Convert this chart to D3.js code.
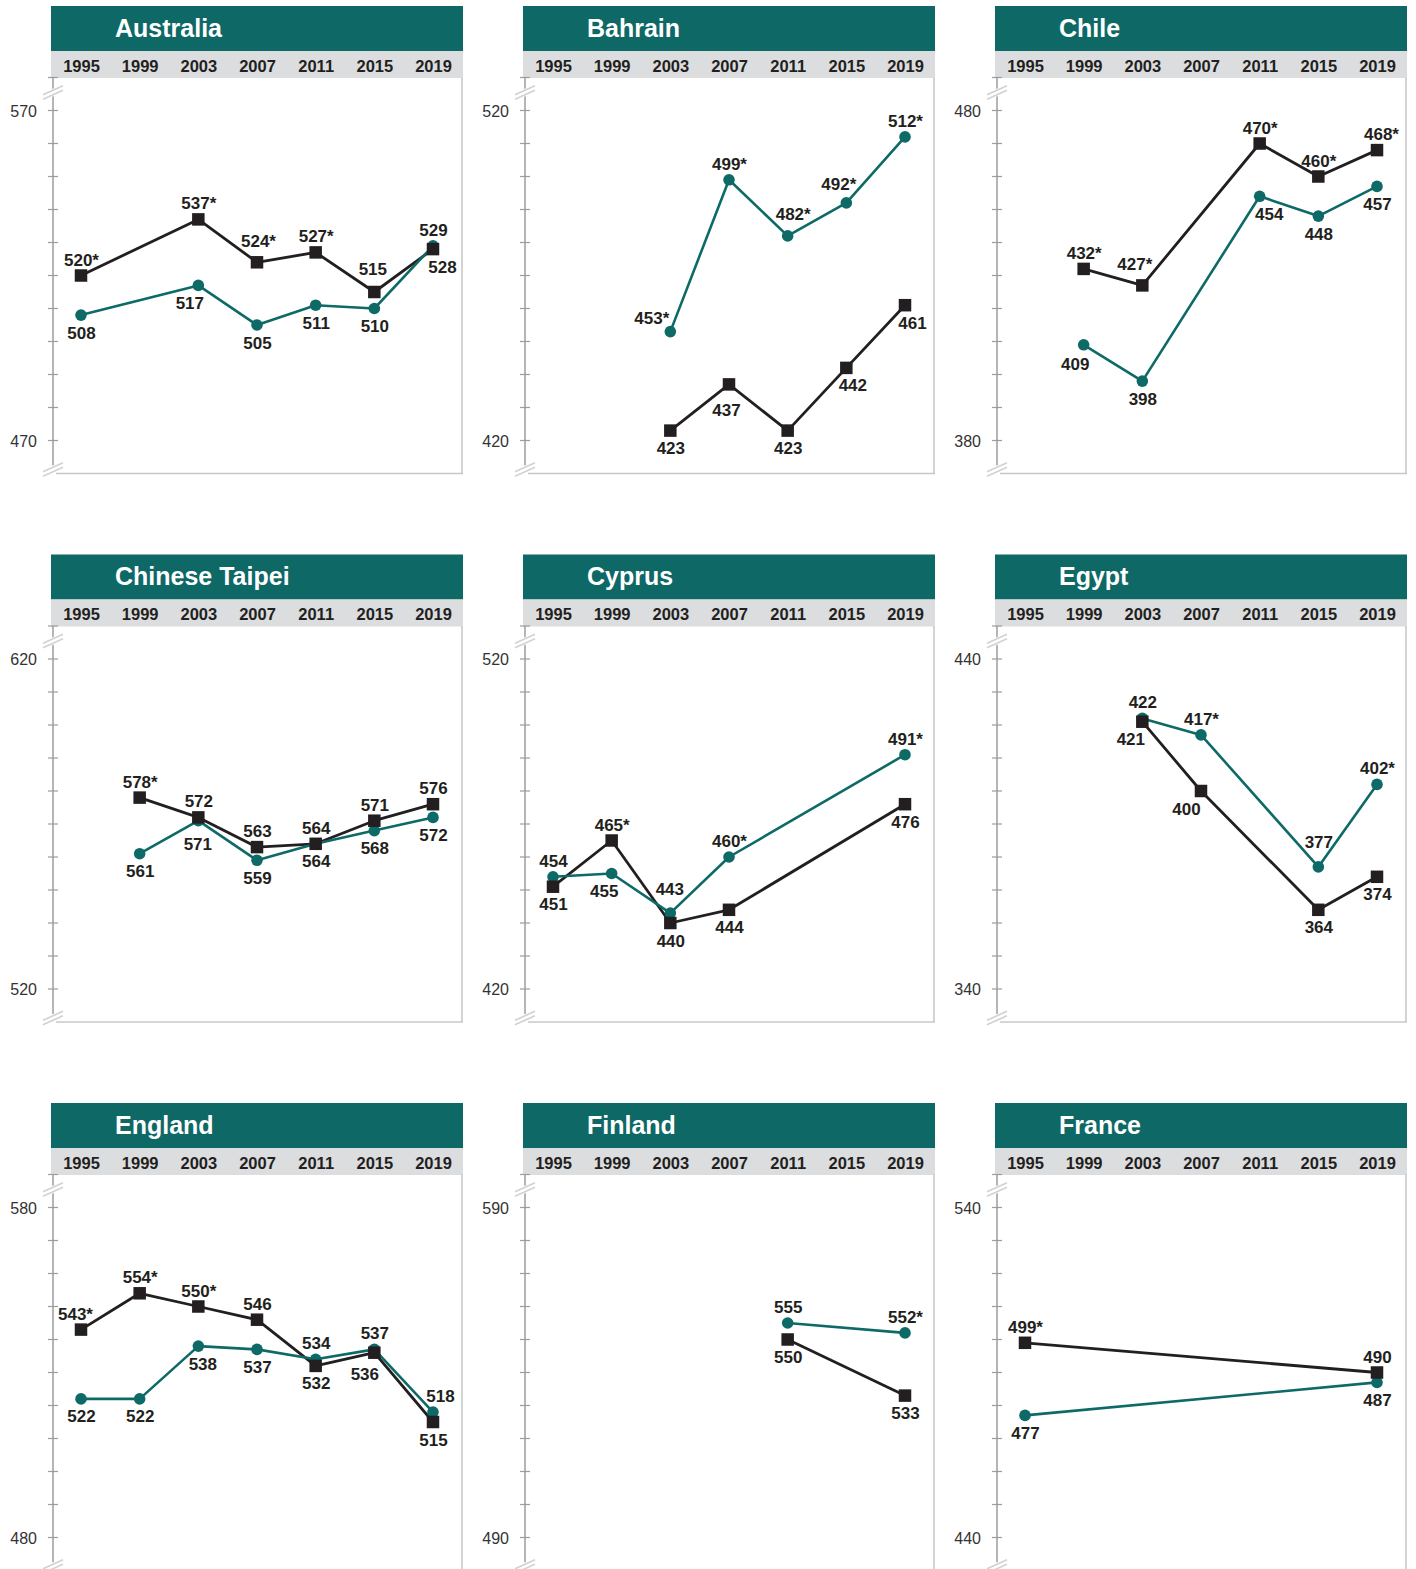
<!DOCTYPE html>
<html>
<head>
<meta charset="utf-8">
<script src="https://cdn.jsdelivr.net/npm/d3@7"></script>
<style>
  html, body { margin: 0; padding: 0; background: #ffffff; }
  svg { display: block; font-family: "Liberation Sans", Arial, sans-serif; }
</style>
</head>
<body>
<svg id="chart" width="1416" height="1569"></svg>
<script>
// ---------------- data ----------------
const years = [1995, 1999, 2003, 2007, 2011, 2015, 2019];
const countries = ["Australia", "Bahrain", "Chile", "Chinese Taipei", "Cyprus", "Egypt", "England", "Finland", "France"];
const yTopLabel = [570, 520, 480, 620, 520, 440, 580, 590, 540];
const yBottomLabel = [470, 420, 380, 520, 420, 340, 480, 490, 440];

// black series (squares), aligned to years; null = not participating
const blackScores = [
  [520, null, 537, 524, 527, 515, 528],
  [null, null, 423, 437, 423, 442, 461],
  [null, 432, 427, null, 470, 460, 468],
  [null, 578, 572, 563, 564, 571, 576],
  [451, 465, 440, 444, null, null, 476],
  [null, null, 421, 400, null, 364, 374],
  [543, 554, 550, 546, 532, 536, 515],
  [null, null, null, null, 550, null, 533],
  [499, null, null, null, null, null, 490]
];
const blackSig = [
  [1, 0, 1, 1, 1, 0, 0],
  [0, 0, 0, 0, 0, 0, 0],
  [0, 1, 1, 0, 1, 1, 1],
  [0, 1, 0, 0, 0, 0, 0],
  [0, 1, 0, 0, 0, 0, 0],
  [0, 0, 0, 0, 0, 0, 0],
  [1, 1, 1, 0, 0, 0, 0],
  [0, 0, 0, 0, 0, 0, 0],
  [1, 0, 0, 0, 0, 0, 0]
];
// teal series (circles)
const tealScores = [
  [508, null, 517, 505, 511, 510, 529],
  [null, null, 453, 499, 482, 492, 512],
  [null, 409, 398, null, 454, 448, 457],
  [null, 561, 571, 559, 564, 568, 572],
  [454, 455, 443, 460, null, null, 491],
  [null, null, 422, 417, null, 377, 402],
  [522, 522, 538, 537, 534, 537, 518],
  [null, null, null, null, 555, null, 552],
  [477, null, null, null, null, null, 487]
];
const tealSig = [
  [0, 0, 0, 0, 0, 0, 0],
  [0, 0, 1, 1, 1, 1, 1],
  [0, 0, 0, 0, 0, 0, 0],
  [0, 0, 0, 0, 0, 0, 0],
  [0, 0, 0, 1, 0, 0, 1],
  [0, 0, 0, 1, 0, 0, 1],
  [0, 0, 0, 0, 0, 0, 0],
  [0, 0, 0, 0, 0, 0, 1],
  [0, 0, 0, 0, 0, 0, 0]
];

// ---------------- layout / style ----------------
const TEAL = "#0d6a67";
const BLACK = "#231f20";
const HEADER = "#0e6866";
const BAND = "#dcdddf";
const panelX = [51, 523, 995];
const rowY = [6, 554.5, 1103];
const PW = 412;

// small label nudges (layout only)
const labelNudge = {
  "Australia|b|2019": [9, 0],
  "Australia|t|2003": [-9, 0],
  "Australia|b|2015": [-2, -7],
  "Australia|b|2007": [1, -5],
  "Bahrain|t|2003": [-19, 2],
  "Bahrain|t|2011": [5, -6],
  "Bahrain|t|2015": [-8, -3],
  "Bahrain|b|2007": [-3, 8],
  "Bahrain|b|2015": [6, 0],
  "Bahrain|b|2019": [7, 0],
  "Chile|t|1999": [-9, 2],
  "Chile|b|2003": [-8, -5],
  "Chile|t|2011": [9, 0],
  "Chile|b|2019": [4, 0],
  "Chinese Taipei|t|2003": [-1, 6],
  "Cyprus|t|1999": [-8, 0],
  "Cyprus|t|2003": [-1, -8],
  "Egypt|b|2003": [-12, 0],
  "Egypt|b|2007": [-15, 0],
  "Egypt|t|2015": [0, -9],
  "England|b|1995": [-6, 0],
  "England|t|2003": [4, 0],
  "England|b|2015": [-10, 4],
  "England|t|2019": [7, 0]
};

const svg = d3.select("#chart");
svg.append("rect").attr("width", 1416).attr("height", 1569).attr("fill", "#fff");

countries.forEach((name, ci) => {
  const px = panelX[ci % 3];
  const py = rowY[Math.floor(ci / 3)];
  const g = svg.append("g").attr("transform", `translate(${px},${py})`);

  const plotTop = 71.5, plotBottom = 467.5;
  const x = d3.scaleLinear().domain([1995, 2019]).range([30, 382]);
  const y = d3.scaleLinear()
    .domain([yBottomLabel[ci] - 10, yTopLabel[ci] + 10])
    .range([plotBottom, plotTop]);

  // header
  g.append("rect").attr("x", 0).attr("y", 0).attr("width", PW).attr("height", 45).attr("fill", HEADER);
  g.append("text").attr("x", 64).attr("y", 30.5)
    .attr("fill", "#fff").attr("font-size", 25).attr("font-weight", "bold").text(name);
  // year band
  g.append("rect").attr("x", 0).attr("y", 45).attr("width", PW).attr("height", 27).attr("fill", BAND);
  g.selectAll("text.yr").data(years).join("text").attr("class", "yr")
    .attr("x", d => x(d) + 0.5).attr("y", 65.5).attr("text-anchor", "middle")
    .attr("font-size", 16.5).attr("font-weight", "bold").attr("fill", BLACK).text(d => d);

  // plot frame (right and bottom)
  g.append("line").attr("x1", 411).attr("x2", 411).attr("y1", plotTop).attr("y2", plotBottom + 0.5)
    .attr("stroke", "#c8c8c8").attr("stroke-width", 1.6);
  g.append("line").attr("x1", 5).attr("x2", 411.8).attr("y1", plotBottom).attr("y2", plotBottom)
    .attr("stroke", "#c8c8c8").attr("stroke-width", 1.6);

  // y axis
  const ax = 2;
  g.append("line").attr("x1", ax).attr("x2", ax).attr("y1", plotTop).attr("y2", plotBottom - 8)
    .attr("stroke", "#9d9d9d").attr("stroke-width", 1.5);
  const ticks = d3.range(yBottomLabel[ci], yTopLabel[ci] + 11, 10);
  g.selectAll("line.tk").data(ticks).join("line").attr("class", "tk")
    .attr("x1", ax - 5).attr("x2", ax + 5)
    .attr("y1", d => y(d)).attr("y2", d => y(d))
    .attr("stroke", "#9d9d9d").attr("stroke-width", 1.2);
  g.selectAll("text.yl").data([yTopLabel[ci], yBottomLabel[ci]]).join("text").attr("class", "yl")
    .attr("x", -14).attr("y", d => y(d) + 6).attr("text-anchor", "end")
    .attr("font-size", 16).attr("fill", "#333").text(d => d);

  // axis breaks
  function brk(cx, cy) {
    g.append("line").attr("x1", cx - 10).attr("y1", cy + 4.5).attr("x2", cx + 10).attr("y2", cy - 4.5)
      .attr("stroke", "#fff").attr("stroke-width", 7);
    [-2.2, 2.2].forEach(o => {
      g.append("line").attr("x1", cx - 10).attr("y1", cy + 4.5 + o).attr("x2", cx + 10).attr("y2", cy - 4.5 + o)
        .attr("stroke", "#d2d2d2").attr("stroke-width", 1.7);
    });
  }
  brk(ax, 86.5);
  brk(ax, 463.5);

  // series
  const mk = (scores, sig, key) => years.map((yr, i) => ({
    year: yr, v: scores[ci][i], sig: sig[ci][i], key
  })).filter(d => d.v !== null);
  const bPts = mk(blackScores, blackSig, "b");
  const tPts = mk(tealScores, tealSig, "t");

  const line = d3.line().x(d => x(d.year)).y(d => y(d.v));
  g.append("path").datum(bPts).attr("d", line).attr("fill", "none")
    .attr("stroke", BLACK).attr("stroke-width", 2.8).attr("stroke-linejoin", "round");
  g.append("path").datum(tPts).attr("d", line).attr("fill", "none")
    .attr("stroke", TEAL).attr("stroke-width", 2.6).attr("stroke-linejoin", "round");

  g.selectAll("circle.pt").data(tPts).join("circle").attr("class", "pt")
    .attr("cx", d => x(d.year)).attr("cy", d => y(d.v)).attr("r", 5.8).attr("fill", TEAL);
  const S = 12.5;
  g.selectAll("rect.pt").data(bPts).join("rect").attr("class", "pt")
    .attr("x", d => x(d.year) - S / 2).attr("y", d => y(d.v) - S / 2)
    .attr("width", S).attr("height", S).attr("fill", BLACK);

  // labels: higher value above, lower below (tie -> black above)
  const labels = [];
  bPts.forEach(d => {
    const other = tPts.find(t => t.year === d.year);
    labels.push({ ...d, above: !other || d.v >= other.v });
  });
  tPts.forEach(d => {
    const other = bPts.find(b => b.year === d.year);
    labels.push({ ...d, above: !other || d.v > other.v });
  });
  const nudge = d => labelNudge[`${name}|${d.key}|${d.year}`] || [0, 0];
  g.selectAll("text.lb").data(labels).join("text").attr("class", "lb")
    .attr("x", d => x(d.year) + 0.5 + nudge(d)[0])
    .attr("y", d => y(d.v) + (d.above ? -10 : 23.5) + nudge(d)[1])
    .attr("text-anchor", "middle").attr("font-size", 17).attr("font-weight", "bold")
    .attr("fill", BLACK).text(d => d.v + (d.sig ? "*" : ""));
});
</script>
</body>
</html>
